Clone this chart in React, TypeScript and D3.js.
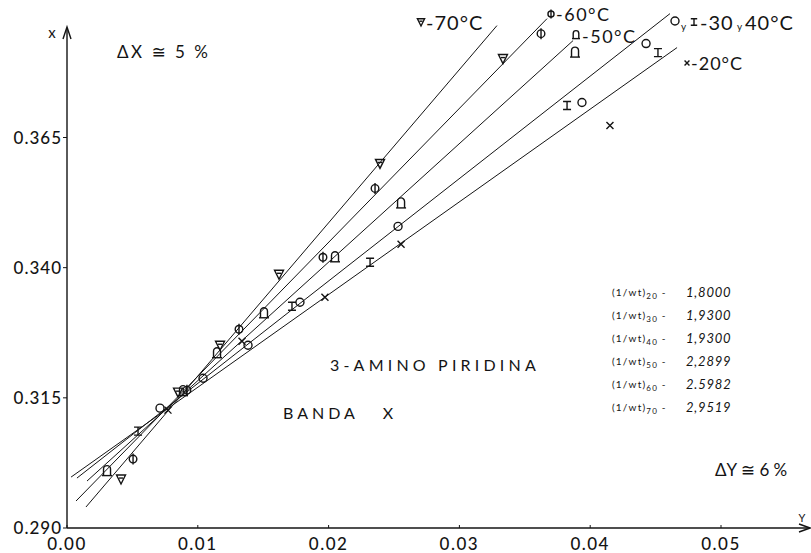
import React from "react";
import * as d3 from "d3";

// Axis ticks
const xTicks = [0.0, 0.01, 0.02, 0.03, 0.04, 0.05];
const yTicks = [0.29, 0.315, 0.34, 0.365];

// Measured points per temperature [Y, X]
const pts20 = [[0.00772, 0.31264], [0.01338, 0.32587], [0.01972, 0.33431], [0.02554, 0.34448], [0.04151, 0.36731]];
const pts30 = [[0.00711, 0.31302], [0.0104, 0.31877], [0.01384, 0.3251], [0.01781, 0.33335], [0.02531, 0.34793], [0.03937, 0.37172], [0.04427, 0.38304]];
const pts40 = [[0.00543, 0.30861], [0.0172, 0.33259], [0.02317, 0.34103], [0.03823, 0.37114], [0.04518, 0.38131]];
const pts50 = [[0.00306, 0.30093], [0.00887, 0.31628], [0.01147, 0.32357], [0.01506, 0.33124], [0.02049, 0.34199], [0.02554, 0.35234], [0.03884, 0.38131]];
const pts60 = [[0.00505, 0.30324], [0.00917, 0.31647], [0.01315, 0.32817], [0.01957, 0.34199], [0.02355, 0.35522], [0.03624, 0.38495]];
const pts70 = [[0.00413, 0.2994], [0.00849, 0.31609], [0.0117, 0.3251], [0.01621, 0.33873], [0.02393, 0.36002], [0.03333, 0.38016]];

// Fitted straight lines (end points)
const fit20 = [[0.00031, 0.29978], [0.04664, 0.38227]];
const fit3040 = [[0.00076, 0.29959], [0.0461, 0.38879]];
const fit50 = [[0.00153, 0.29902], [0.03869, 0.38361]];
const fit60 = [[0.00069, 0.29518], [0.0367, 0.38783]];
const fit70 = [[0.00145, 0.29403], [0.03287, 0.38649]];

// Inverse-weight table
const wtSubs = ["20", "30", "40", "50", "60", "70"];
const wtValues = ["1,8000", "1,9300", "1,9300", "2,2899", "2.5982", "2,9519"];

const W = 811;
const H = 553;
const FONT = "Lato, 'DejaVu Sans', sans-serif";
const INK = "#141414";

const x = d3.scaleLinear().domain([0, 0.05]).range([67, 721]);
const y = d3.scaleLinear().domain([0.29, 0.365]).range([528, 137.5]);

type MarkerKind = "tri" | "phi" | "bell" | "circle" | "ibeam" | "cross";

function Marker({ kind, cx, cy, s = 1 }: { kind: MarkerKind; cx: number; cy: number; s?: number }) {
  const p = { fill: "none", stroke: INK, strokeWidth: 1.4 };
  const k = s;
  switch (kind) {
    case "tri":
      return (
        <g {...p}>
          <path d={`M${cx - 4.5 * k},${cy - 4 * k}L${cx + 4.5 * k},${cy - 4 * k}L${cx},${cy + 5 * k}Z`} />
          <path d={`M${cx - 2 * k},${cy - 1 * k}H${cx + 2 * k}`} />
        </g>
      );
    case "phi":
      return (
        <g {...p}>
          <circle cx={cx} cy={cy} r={3.8 * k} />
          <path d={`M${cx},${cy - 5.5 * k}V${cy + 5.5 * k}`} />
        </g>
      );
    case "bell":
      return (
        <g {...p}>
          <path
            d={`M${cx - 3.5 * k},${cy + 4.5 * k}V${cy - 2 * k}A${3.5 * k},${3.5 * k} 0 0 1 ${cx + 3.5 * k},${cy - 2 * k}V${cy + 4.5 * k}`}
          />
          <path d={`M${cx - 5 * k},${cy + 4.5 * k}H${cx + 5 * k}`} />
        </g>
      );
    case "circle":
      return <circle cx={cx} cy={cy} r={4 * k} {...p} />;
    case "ibeam":
      return (
        <g {...p}>
          <path d={`M${cx - 4 * k},${cy - 4 * k}H${cx + 4 * k}M${cx},${cy - 4 * k}V${cy + 4 * k}M${cx - 4 * k},${cy + 4 * k}H${cx + 4 * k}`} />
        </g>
      );
    case "cross":
      return (
        <g {...p}>
          <path d={`M${cx - 3.5 * k},${cy - 3.5 * k}L${cx + 3.5 * k},${cy + 3.5 * k}M${cx + 3.5 * k},${cy - 3.5 * k}L${cx - 3.5 * k},${cy + 3.5 * k}`} />
        </g>
      );
  }
  return null;
}

const seriesList: { pts: number[][]; kind: MarkerKind }[] = [
  { pts: pts20, kind: "cross" },
  { pts: pts30, kind: "circle" },
  { pts: pts40, kind: "ibeam" },
  { pts: pts50, kind: "bell" },
  { pts: pts60, kind: "phi" },
  { pts: pts70, kind: "tri" },
];

const fits = [fit20, fit3040, fit50, fit60, fit70];

export default function App() {
  const line = d3
    .line<number[]>()
    .x((d) => x(d[0]))
    .y((d) => y(d[1]));

  const x0 = x(0);
  const y0 = y(0.29);

  return (
    <svg width={W} height={H} style={{ position: "absolute", left: 0, top: 0, background: "#fff" }}>
      <rect width={W} height={H} fill="#fff" />

      {/* axes with open arrow heads */}
      <g stroke={INK} strokeWidth={1.4} fill="none">
        <path d={`M${x0},${y0}V28`} />
        <path d={`M${x0 - 4},39L${x0},27L${x0 + 4},39`} />
        <path d={`M${x0},${y0}H809`} />
        <path d={`M799,${y0 - 4}L810,${y0}L799,${y0 + 4}`} />
      </g>
      <text x={52} y={38} fontFamily={FONT} fontSize={15} fill={INK} textAnchor="middle">x</text>
      <text x={802} y={522} fontFamily={FONT} fontSize={11} fill={INK} textAnchor="middle">Y</text>

      {/* x ticks */}
      {xTicks.map((t) => (
        <g key={`xt${t}`}>
          <line x1={x(t)} x2={x(t)} y1={y0} y2={y0 - 3} stroke={INK} strokeWidth={1} />
          <text x={x(t)} y={y0 + 22} fontFamily={FONT} fontSize={17} fontWeight={500} fill={INK} textAnchor="middle" letterSpacing={1.5}>
            {t.toFixed(2)}
          </text>
        </g>
      ))}

      {/* y ticks */}
      {yTicks.map((t) => (
        <g key={`yt${t}`}>
          <line x1={x0 - 4} x2={x0} y1={y(t)} y2={y(t)} stroke={INK} strokeWidth={1} />
          <text x={x0 - 5} y={y(t) + 6} fontFamily={FONT} fontSize={17} fontWeight={500} fill={INK} textAnchor="end" letterSpacing={1}>
            {t.toFixed(3)}
          </text>
        </g>
      ))}

      {/* fitted lines */}
      {fits.map((f, i) => (
        <path key={`f${i}`} d={line(f) || ""} stroke={INK} strokeWidth={1} fill="none" />
      ))}

      {/* data markers */}
      {seriesList.map((s, i) =>
        s.pts.map((d, j) => <Marker key={`m${i}-${j}`} kind={s.kind} cx={x(d[0])} cy={y(d[1])} />)
      )}

      {/* temperature labels */}
      <g fontFamily={FONT} fontSize={20} fill={INK}>
        <Marker kind="tri" cx={421} cy={22} s={0.8} />
        <text x={426} y={30} letterSpacing={1}>-70°C</text>
        <Marker kind="phi" cx={551} cy={14} s={0.8} />
        <text x={556} y={21} fontSize={18} letterSpacing={1.5}>-60°C</text>
        <Marker kind="bell" cx={576} cy={35} s={0.8} />
        <text x={582} y={43} fontSize={18} letterSpacing={1.5}>-50°C</text>
        <Marker kind="circle" cx={675} cy={21} s={1} />
        <text x={681} y={30} fontSize={10}>y</text>
        <Marker kind="ibeam" cx={694} cy={22} s={0.8} />
        <text x={700} y={30} letterSpacing={1}>-30</text>
        <text x={737} y={30} fontSize={10}>y</text>
        <text x={745} y={30} letterSpacing={1}>40°C</text>
        <Marker kind="cross" cx={687} cy={63} s={0.7} />
        <text x={691} y={70} fontSize={18} letterSpacing={1}>-20°C</text>
      </g>

      {/* error estimates */}
      <text x={117} y={58} fontFamily={FONT} fontSize={17} fill={INK} letterSpacing={2.5}>
        ΔX ≅ 5 %
      </text>
      <text x={715} y={476} fontFamily={FONT} fontSize={17} fill={INK}>
        ΔY ≅ 6 %
      </text>

      {/* compound and band titles */}
      <text x={330} y={371} fontFamily={FONT} fontSize={16} fill={INK} letterSpacing={4.2}>
        3-AMINO PIRIDINA
      </text>
      <text x={283} y={419} fontFamily={FONT} fontSize={16} fill={INK} letterSpacing={4} xmlSpace="preserve">
        BANDA   X
      </text>

      {/* inverse weights */}
      {wtSubs.map((s, i) => (
        <g key={`wt${s}`} fontFamily={FONT} fill={INK}>
          <text x={612} y={296 + i * 23} fontSize={10} letterSpacing={1.2}>
            (1/wt)
            <tspan fontSize={8} dy={3}>{s}</tspan>
            <tspan fontSize={10} dy={-3}> - </tspan>
          </text>
          <text x={686} y={297 + i * 23} fontSize={13} fontStyle="italic" letterSpacing={0.8}>
            {wtValues[i]}
          </text>
        </g>
      ))}
    </svg>
  );
}
